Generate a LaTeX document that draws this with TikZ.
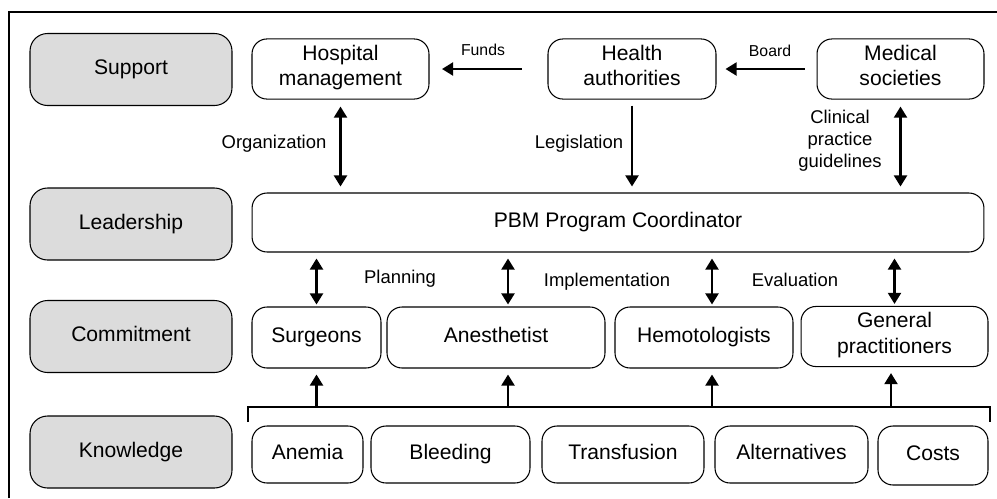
\documentclass[tikz,border=0pt]{standalone}
\usepackage{fontspec}
\setmainfont{Liberation Sans}
\usetikzlibrary{arrows.meta}
\definecolor{grisniveau}{RGB}{220,220,220}

\begin{document}
\begin{tikzpicture}[x=0.02cm,y=-0.02cm]
	\tikzstyle{niveau}=[draw,rounded corners=0.35cm,fill=grisniveau,line width=0.6pt,minimum width=4.04cm,minimum height=1.44cm,font=\fontsize{12}{14.5}\selectfont,execute at begin node=\strut]
	\tikzstyle{acteur}=[draw,rounded corners=0.3cm,line width=0.6pt,align=center,font=\fontsize{12}{14.5}\selectfont,execute at begin node=\strut,execute at end node=\strut]
	\tikzstyle{etiquette}=[inner sep=0pt,align=center,font=\fontsize{10.5}{12.5}\selectfont]
	\tikzstyle{petite}=[inner sep=0pt,font=\fontsize{9}{11}\selectfont]
	\tikzstyle{fleche}=[line width=1.25pt,-{Triangle[length=6.3pt,width=7.4pt]}]
	\tikzstyle{fleches}=[line width=1.25pt,{Triangle[length=6.3pt,width=7.4pt]}-{Triangle[length=6.3pt,width=7.4pt]}]
	\useasboundingbox (0,0) rectangle (997,498);
	\draw[line width=0.6pt] (9,498) -- (9,12) -- (997,12);
	% niveaux
	\node[niveau] (support) at (131,69.5){Support};
	\node[niveau] (leadership) at (131,224){Leadership};
	\node[niveau] (commitment) at (131,336.5){Commitment};
	\node[niveau] (knowledge) at (131,452){Knowledge};
	% support
	\node[acteur,minimum width=3.54cm,minimum height=1.2cm] (hospital) at (340.5,69){Hospital\\management};
	\node[acteur,minimum width=3.36cm,minimum height=1.2cm] (health) at (632,69){Health\\authorities};
	\node[acteur,minimum width=3.34cm,minimum height=1.2cm] (medical) at (900.5,69){Medical\\societies};
	% leadership
	\node[acteur,minimum width=14.64cm,minimum height=1.18cm] (pbm) at (618,222.5){PBM Program Coordinator};
	% commitment
	\node[acteur,minimum width=2.58cm,minimum height=1.22cm] (surgeons) at (316.5,337.5){Surgeons};
	\node[acteur,minimum width=4.36cm,minimum height=1.22cm] (anest) at (496,337.5){Anesthetist};
	\node[acteur,minimum width=3.56cm,minimum height=1.22cm] (hemo) at (704,337.5){Hemotologists};
	\node[acteur,minimum width=3.74cm,minimum height=1.18cm] (gp) at (894.5,336.5){General\\practitioners};
	% knowledge
	\node[acteur,minimum width=2.22cm,minimum height=1.14cm] (anemia) at (307.5,454.5){Anemia};
	\node[acteur,minimum width=3.18cm,minimum height=1.14cm] (bleeding) at (450.5,454.5){Bleeding};
	\node[acteur,minimum width=3.24cm,minimum height=1.14cm] (transfusion) at (623,454.5){Transfusion};
	\node[acteur,minimum width=3.06cm,minimum height=1.14cm] (alternatives) at (791.5,454.5){Alternatives};
	\node[acteur,minimum width=2.2cm,minimum height=1.18cm] (costs) at (933,455.5){Costs};
	% fleches du haut
	\draw[fleche,shorten <=0.52cm,shorten >=0.25cm] (health) -- (hospital);
	\draw[fleche,shorten <=0.24cm,shorten >=0.18cm] (medical) -- (health);
	\draw[fleches,shorten <=0.14cm,shorten >=0.12cm] (hospital) -- (hospital |- pbm.north);
	\draw[fleche,shorten <=0.12cm,shorten >=0.12cm] (health) -- (health |- pbm.north);
	\draw[fleches,shorten <=0.14cm,shorten >=0.12cm] (medical) -- (medical |- pbm.north);
	\node[petite] (funds) at (483,50){Funds};
	\node[petite] (board) at (770,51){Board};
	\node[etiquette] (organization) at (274,144){Organization};
	\node[etiquette] (legislation) at (579,144){Legislation};
	\node[etiquette] (guidelines) at (840,141){Clinical\\practice\\guidelines};
	% fleches du milieu
	\coordinate (anestN) at ([xshift=0.24cm]anest.north);
	\coordinate (hemoN) at ([xshift=0.16cm]hemo.north);
	\draw[fleches,shorten <=0.12cm,shorten >=0.04cm] (pbm.south -| surgeons) -- (surgeons.north);
	\draw[fleches,shorten <=0.12cm,shorten >=0.04cm] (pbm.south -| anestN) -- (anestN);
	\draw[fleches,shorten <=0.12cm,shorten >=0.04cm] (pbm.south -| hemoN) -- (hemoN);
	\draw[fleches,shorten <=0.12cm,shorten >=0.04cm] (pbm.south -| gp) -- (gp.north);
	\node[etiquette] (planning) at (400,279){Planning};
	\node[etiquette] (implementation) at (607,282){Implementation};
	\node[etiquette] (evaluation) at (795,280){Evaluation};
	% bus du bas
	\coordinate (busL) at (248,422);
	\coordinate (busR) at (990,422);
	\coordinate (bus) at (0,407);
	\draw[line width=1.25pt] (busL) -- ++(0,-15) -| (busR);
	\coordinate (anestS) at ([xshift=0.24cm]anest.south);
	\coordinate (hemoS) at ([xshift=0.16cm]hemo.south);
	\coordinate (gpS) at ([xshift=-0.07cm]gp.south);
	\draw[fleche,shorten >=0.12cm] (surgeons.south |- bus) -- (surgeons.south);
	\draw[fleche,shorten >=0.12cm] (anestS |- bus) -- (anestS);
	\draw[fleche,shorten >=0.12cm] (hemoS |- bus) -- (hemoS);
	\draw[fleche,shorten >=0.12cm] (gpS |- bus) -- (gpS);
\end{tikzpicture}
\end{document}
